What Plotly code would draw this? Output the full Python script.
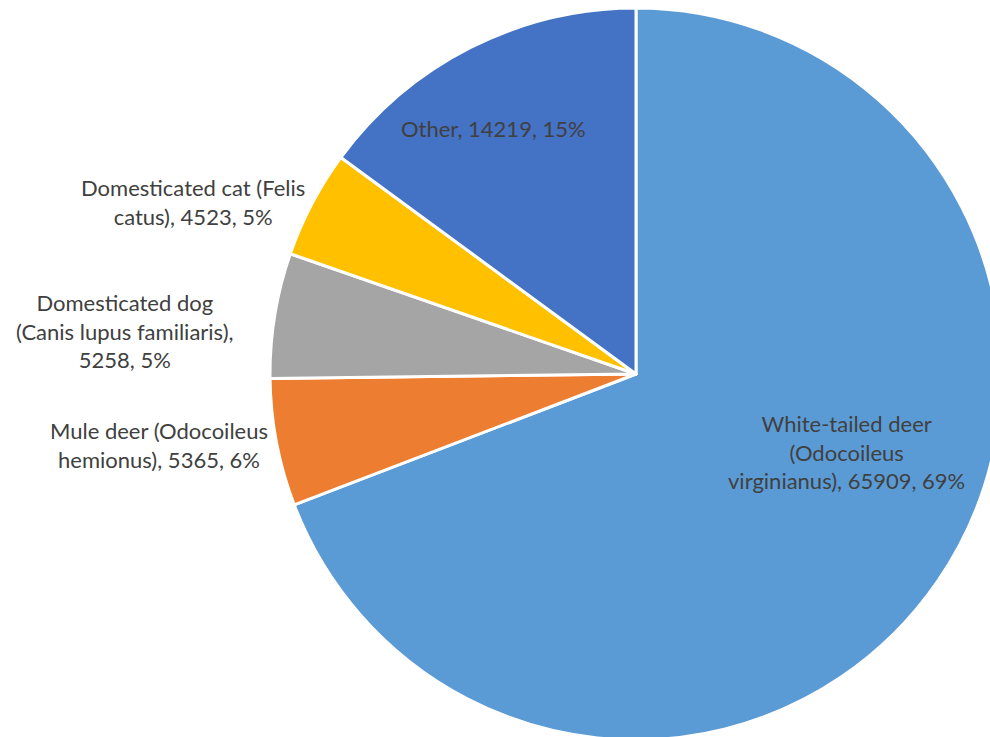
import plotly.graph_objects as go

labels = [
    "White-tailed deer (Odocoileus virginianus)",
    "Mule deer (Odocoileus hemionus)",
    "Domesticated dog (Canis lupus familiaris)",
    "Domesticated cat (Felis catus)",
    "Other",
]
values = [65909, 5365, 5258, 4523, 14219]
percent_labels = ["69%", "6%", "5%", "5%", "15%"]
display_labels = [
    "White-tailed deer<br>(Odocoileus<br>virginianus)",
    "Mule deer (Odocoileus<br>hemionus)",
    "Domesticated dog<br>(Canis lupus familiaris),<br>",
    "Domesticated cat (Felis<br>catus)",
    "Other",
]
colors = ["#5B9BD5", "#ED7D31", "#A5A5A5", "#FFC000", "#4472C4"]

W, H = 1002, 748
fig = go.Figure(go.Pie(
    labels=labels,
    values=values,
    sort=False,
    direction="clockwise",
    rotation=0,
    textinfo="none",
    hoverinfo="label+value+percent",
    marker=dict(colors=colors, line=dict(color="white", width=3)),
    domain=dict(x=[270 / W, 1.0], y=[0.0, 1.0]),
    showlegend=False,
))

# label anchor positions in pixels (centre of text block)
label_pos = [(846, 452), (159, 445), (125, 331), (193, 202), (493, 128)]
annotations = []
for lab, val, pct, (px, py) in zip(display_labels, values, percent_labels, label_pos):
    sep = "" if lab.endswith("<br>") else ", "
    annotations.append(dict(
        text=f"{lab}{sep}{val}, {pct}",
        x=px / W, y=1 - py / H, xref="paper", yref="paper",
        xanchor="center", yanchor="middle", align="center",
        showarrow=False,
        font=dict(family="Lato", size=22, color="#404040"),
    ))

fig.update_layout(
    width=W, height=H,
    margin=dict(l=0, r=0, t=0, b=0),
    paper_bgcolor="white",
    plot_bgcolor="white",
    annotations=annotations,
)
fig.write_html(
    "out.html",
    config={"displayModeBar": False},
    post_script="document.body.style.margin='0';document.body.style.overflow='hidden';",
)
